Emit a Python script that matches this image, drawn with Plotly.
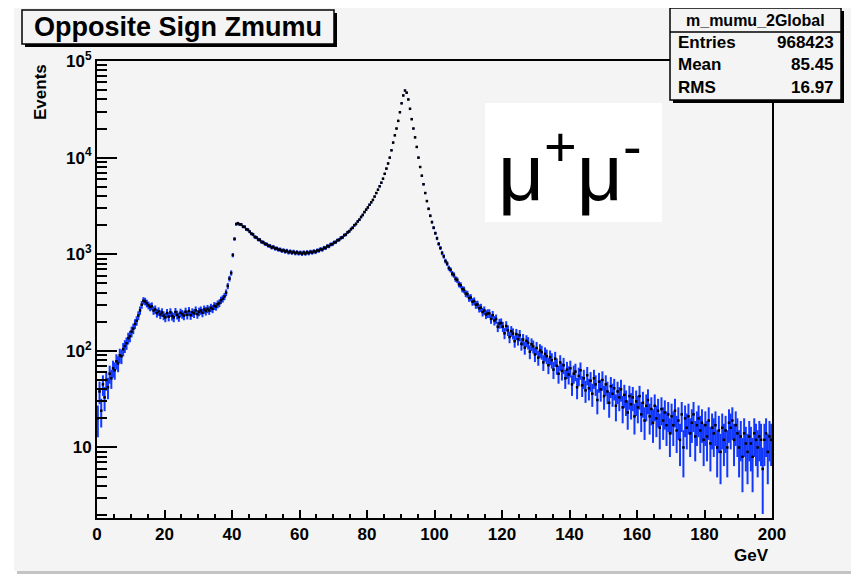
import numpy as np
import plotly.graph_objects as go

# ---------------- data ----------------
hist_name = "m_mumu_2Global"
title_text = "Opposite Sign Zmumu"
x_label = "GeV"
y_label = "Events"
stats_entries = "968423"
stats_mean = "85.45"
stats_rms = "16.97"

x_low, x_high, bin_width = 0.0, 200.0, 0.5

# bin contents, 10 bins (5 GeV) per line
counts = [
    20, 38, 24, 45, 33, 50, 42, 58, 52, 66,
    63, 78, 74, 90, 88, 104, 112, 120, 135, 142,
    158, 170, 190, 205, 232, 262, 300, 330, 325, 310,
    296, 284, 290, 262, 268, 246, 256, 238, 250, 232,
    222, 246, 226, 250, 230, 222, 252, 236, 224, 248,
    240, 232, 254, 236, 258, 234, 250, 244, 262, 240,
    254, 262, 248, 268, 258, 272, 262, 280, 272, 292,
    288, 304, 312, 334, 346, 365, 400, 470, 560, 640,
    980, 1440, 2050, 2090, 2040, 2030, 1930, 1920, 1810, 1790,
    1710, 1630, 1600, 1510, 1490, 1420, 1410, 1340, 1330, 1280,
    1270, 1225, 1220, 1175, 1190, 1145, 1150, 1115, 1120, 1085,
    1100, 1065, 1085, 1045, 1070, 1035, 1060, 1025, 1050, 1020,
    1040, 1010, 1045, 1015, 1050, 1025, 1060, 1040, 1075, 1055,
    1095, 1090, 1130, 1115, 1165, 1160, 1215, 1210, 1265, 1270,
    1325, 1335, 1395, 1410, 1475, 1495, 1575, 1600, 1685, 1730,
    1820, 1880, 1995, 2060, 2185, 2280, 2430, 2550, 2730, 2890,
    3050, 3250, 3450, 3650, 3950, 4300, 4650, 5050, 5500, 6050,
    6800, 7700, 8700, 10000, 11900, 14300, 17000, 20000, 24000, 29500,
    36500, 44000, 49500, 47000, 40000, 32000, 25000, 20000, 16200, 12900,
    10000, 8000, 6500, 5300, 4300, 3550, 2950, 2500, 2150, 1880,
    1650, 1460, 1280, 1160, 1030, 950, 850, 800, 720, 690,
    630, 610, 555, 540, 490, 478, 436, 428, 392, 386,
    352, 356, 322, 328, 300, 302, 276, 280, 252, 262,
    238, 244, 244, 214, 234, 206, 214, 178, 192, 194,
    178, 152, 181, 163, 139, 160, 151, 126, 149, 132,
    145, 118, 131, 108, 127, 121, 98, 117, 111, 92,
    107, 85, 101, 97, 76, 93, 88, 71, 86, 80,
    64, 83, 70, 58, 76, 62, 71, 52, 64, 57,
    66, 45, 58, 61, 42, 55, 63, 44, 52, 39,
    56, 41, 49, 36, 52, 45, 31, 48, 40, 50,
    34, 45, 38, 29, 43, 36, 41, 27, 38, 33,
    40, 26, 35, 30, 23, 34, 28, 33, 21, 30,
    26, 34, 22, 29, 19, 27, 31, 21, 25, 18,
    27, 20, 24, 16, 25, 19, 23, 17, 22, 14,
    21, 17, 24, 15, 19, 12, 22, 10, 20, 16,
    21, 14, 18, 22, 13, 17, 20, 15, 18, 12,
    17, 13, 19, 11, 16, 14, 17, 10, 15, 9,
    16, 12, 15, 10, 18, 16, 19, 12, 17, 14,
    10, 13, 8, 14, 11, 9, 13, 11, 8, 14,
    12, 10, 13, 12, 6, 12, 14, 9, 13, 12,
]
event_weight = 2.6  # weighted entries -> error = sqrt(w * N)

x_tick_vals = [0, 20, 40, 60, 80, 100, 120, 140, 160, 180, 200]
y_tick_vals = [10, 100, 1000, 10000, 100000]
y_tick_text = ["10", "10<sup>2</sup>", "10<sup>3</sup>", "10<sup>4</sup>", "10<sup>5</sup>"]

# ---------------- derived ----------------
counts = np.array(counts, dtype=float)
centers = np.arange(x_low + bin_width / 2, x_high, bin_width)
assert len(centers) == len(counts)
errors = np.sqrt(event_weight * counts)

# page has an 8px body margin: figure drawn at window offset (8, 8)
OX, OY = 8, 8
W, H = 848, 568
L, T = 97 - OX, 61 - OY
R = W - (772 - OX)
B = H - (518 - OY)
PW, PH = W - L - R, H - T - B


def px(x):
    """window x pixel -> paper coordinate"""
    return (x - OX - L) / PW


def py(y):
    """window y pixel -> paper coordinate"""
    return 1 - (y - OY - T) / PH


FONT = "Liberation Sans, Arial, Helvetica, sans-serif"
BLUE = "#1238ff"
CANVAS = "#f4f4f4"

fig = go.Figure()
fig.add_trace(go.Scatter(
    x=centers, y=counts, mode="markers",
    marker=dict(symbol="square", size=2.5, color="black", line=dict(width=0)),
    error_y=dict(type="data", array=errors, color=BLUE, thickness=2.0, width=0),
    error_x=dict(type="constant", value=bin_width / 2, color=BLUE, thickness=2.0, width=0),
    showlegend=False, hoverinfo="skip",
))

minor_y = [m * 10 ** d for d in range(0, 5) for m in range(2, 10)]

shapes = []
# canvas with shadow
shapes.append(dict(type="rect", xref="paper", yref="paper", layer="below",
                   x0=px(17), x1=px(855), y0=py(574), y1=py(9),
                   fillcolor="#c4c4c4", line=dict(width=0)))
shapes.append(dict(type="rect", xref="paper", yref="paper", layer="below",
                   x0=px(14), x1=px(852), y0=py(571), y1=py(6),
                   fillcolor=CANVAS, line=dict(width=0)))
# title box shadow + box
shapes.append(dict(type="rect", xref="paper", yref="paper",
                   x0=px(25), x1=px(337), y0=py(47), y1=py(13),
                   fillcolor="black", line=dict(width=0)))
shapes.append(dict(type="rect", xref="paper", yref="paper",
                   x0=px(22), x1=px(334), y0=py(44), y1=py(10),
                   fillcolor=CANVAS, line=dict(color="black", width=1.5)))
# stats box shadow + box
shapes.append(dict(type="rect", xref="paper", yref="paper",
                   x0=px(673), x1=px(844), y0=py(103), y1=py(11),
                   fillcolor="black", line=dict(width=0)))
shapes.append(dict(type="rect", xref="paper", yref="paper",
                   x0=px(670), x1=px(841), y0=py(100), y1=py(8),
                   fillcolor=CANVAS, line=dict(color="black", width=1.5)))
shapes.append(dict(type="line", xref="paper", yref="paper",
                   x0=px(670), x1=px(841), y0=py(32), y1=py(32),
                   line=dict(color="black", width=1.5)))
# white label box
shapes.append(dict(type="rect", xref="paper", yref="paper",
                   x0=px(485), x1=px(662), y0=py(222), y1=py(103),
                   fillcolor="white", line=dict(width=0)))


def ann(text, x, y, size, xanchor="center", yanchor="middle", bold=True, angle=0):
    f = dict(family=FONT, size=size, color="black")
    if bold:
        f["weight"] = "bold"
    return dict(text=text, x=px(x), y=py(y), xref="paper", yref="paper",
                showarrow=False, xanchor=xanchor, yanchor=yanchor,
                textangle=angle, font=f)


annotations = [
    ann(title_text, 178, 27, 27),
    ann(hist_name, 755, 20, 16),
    ann("Entries", 676, 43, 17, xanchor="left"),
    ann(stats_entries, 836, 43, 17, xanchor="right"),
    ann("Mean", 676, 65, 17, xanchor="left"),
    ann(stats_mean, 836, 65, 17, xanchor="right"),
    ann("RMS", 676, 87, 17, xanchor="left"),
    ann(stats_rms, 836, 87, 17, xanchor="right"),
    ann(y_label, 41, 62, 17, yanchor="top", angle=-90),
    ann(x_label, 771, 555, 17, xanchor="right"),
    ann("μ<sup>+</sup>μ<sup>-</sup>", 570, 166, 80, bold=False),
]

fig.update_layout(
    width=W, height=H,
    margin=dict(l=L, r=R, t=T, b=B, pad=0),
    paper_bgcolor="white",
    plot_bgcolor="rgba(0,0,0,0)",
    shapes=shapes,
    annotations=annotations,
    xaxis=dict(
        range=[x_low, x_high], tickmode="array", tickvals=x_tick_vals,
        ticks="inside", ticklen=8, tickwidth=2, tickcolor="black",
        showline=True, linewidth=2, linecolor="black", mirror=True,
        showgrid=False, zeroline=False, automargin=False,
        tickfont=dict(family=FONT, size=17, color="black", weight="bold"),
        minor=dict(tick0=0, dtick=5, ticks="inside", ticklen=4, tickwidth=2,
                   tickcolor="black", showgrid=False),
    ),
    yaxis=dict(
        type="log", range=[0.27, 5.0], tickmode="array",
        tickvals=y_tick_vals, ticktext=y_tick_text,
        ticks="inside", ticklen=20, tickwidth=2, tickcolor="black",
        showline=True, linewidth=2, linecolor="black", mirror=True,
        showgrid=False, zeroline=False, automargin=False,
        tickfont=dict(family=FONT, size=17, color="black", weight="bold"),
        minor=dict(tickmode="array", tickvals=minor_y, ticks="inside", ticklen=10,
                   tickwidth=2, tickcolor="black", showgrid=False),
    ),
)

fig.write_html("out.html")
